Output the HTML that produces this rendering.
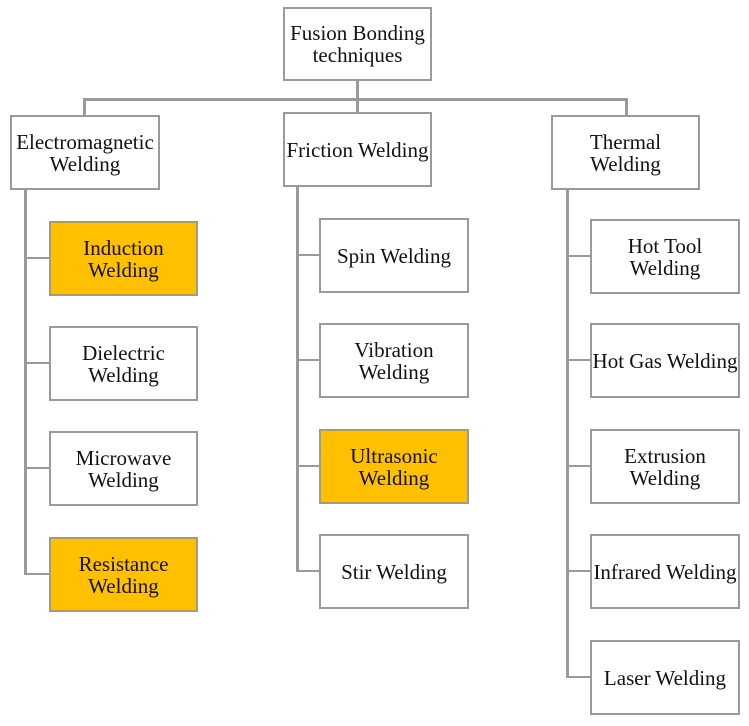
<!DOCTYPE html>
<html><head><style>
body{margin:0;width:749px;height:726px;background:#fff;position:relative;overflow:hidden;font-family:"Liberation Serif",serif;}
.b{position:absolute;box-sizing:border-box;border:2px solid #9a9a9a;background:#fff;display:flex;align-items:center;justify-content:center;text-align:center;font-size:21px;line-height:22px;color:#111;white-space:nowrap;}
.g{background:#ffc000;}
.l{position:absolute;background:#9a9a9a;}
</style></head><body>
<div class="l" style="left:84px;top:98px;width:543px;height:3px"></div>
<div class="l" style="left:356px;top:80px;width:3px;height:33px"></div>
<div class="l" style="left:83px;top:98px;width:3px;height:18px"></div>
<div class="l" style="left:625px;top:98px;width:3px;height:18px"></div>
<div class="l" style="left:24px;top:189px;width:3px;height:386px"></div>
<div class="l" style="left:24px;top:257px;width:25px;height:2px"></div>
<div class="l" style="left:24px;top:362px;width:25px;height:2px"></div>
<div class="l" style="left:24px;top:467px;width:25px;height:2px"></div>
<div class="l" style="left:24px;top:573px;width:25px;height:2px"></div>
<div class="l" style="left:296px;top:186px;width:3px;height:386px"></div>
<div class="l" style="left:296px;top:254px;width:24px;height:2px"></div>
<div class="l" style="left:296px;top:359px;width:24px;height:2px"></div>
<div class="l" style="left:296px;top:465px;width:24px;height:2px"></div>
<div class="l" style="left:296px;top:570px;width:24px;height:2px"></div>
<div class="l" style="left:566px;top:189px;width:3px;height:489px"></div>
<div class="l" style="left:566px;top:255px;width:25px;height:2px"></div>
<div class="l" style="left:566px;top:359px;width:25px;height:2px"></div>
<div class="l" style="left:566px;top:465px;width:25px;height:2px"></div>
<div class="l" style="left:566px;top:570px;width:25px;height:2px"></div>
<div class="l" style="left:566px;top:676px;width:25px;height:2px"></div>

<div class="b" style="left:283px;top:7px;width:149px;height:74px">Fusion Bonding<br>techniques</div>
<div class="b" style="left:10px;top:115px;width:150px;height:75px">Electromagnetic<br>Welding</div>
<div class="b" style="left:283px;top:112px;width:149px;height:75px">Friction Welding</div>
<div class="b" style="left:551px;top:115px;width:149px;height:75px">Thermal<br>Welding</div>

<div class="b g" style="left:49px;top:221px;width:149px;height:75px">Induction<br>Welding</div>
<div class="b" style="left:49px;top:326px;width:149px;height:75px">Dielectric<br>Welding</div>
<div class="b" style="left:49px;top:431px;width:149px;height:75px">Microwave<br>Welding</div>
<div class="b g" style="left:49px;top:537px;width:149px;height:75px">Resistance<br>Welding</div>

<div class="b" style="left:319px;top:218px;width:150px;height:75px">Spin Welding</div>
<div class="b" style="left:319px;top:323px;width:150px;height:75px">Vibration<br>Welding</div>
<div class="b g" style="left:319px;top:429px;width:150px;height:75px">Ultrasonic<br>Welding</div>
<div class="b" style="left:319px;top:534px;width:150px;height:75px">Stir Welding</div>

<div class="b" style="left:590px;top:219px;width:150px;height:75px">Hot Tool<br>Welding</div>
<div class="b" style="left:590px;top:323px;width:150px;height:75px">Hot Gas Welding</div>
<div class="b" style="left:590px;top:429px;width:150px;height:75px">Extrusion<br>Welding</div>
<div class="b" style="left:590px;top:534px;width:150px;height:75px">Infrared Welding</div>
<div class="b" style="left:590px;top:640px;width:150px;height:75px">Laser Welding</div>
</body></html>
